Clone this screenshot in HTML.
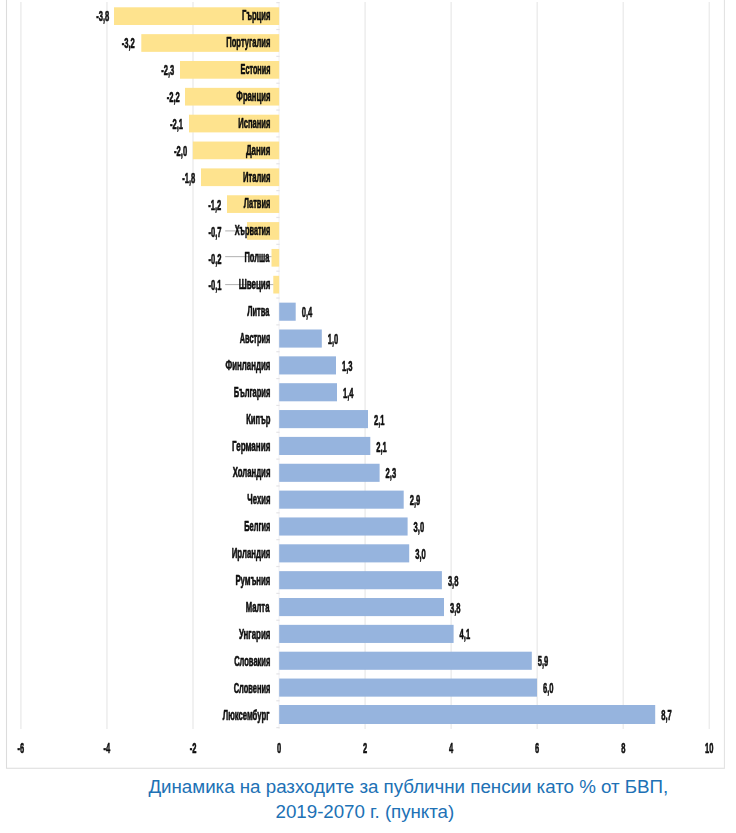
<!DOCTYPE html><html><head><meta charset="utf-8"><title>Chart</title><style>html,body{margin:0;padding:0;background:#fff}svg{display:block}text{font-family:"Liberation Sans",sans-serif}</style></head><body>
<svg width="736" height="833" viewBox="0 0 736 833">
<rect width="736" height="833" fill="#fff"/>
<defs><filter id="soft" x="0" y="0" width="736" height="775" filterUnits="userSpaceOnUse"><feGaussianBlur stdDeviation="0.35"/></filter></defs>
<g filter="url(#soft)">
<path d="M6.5 0V768.3H724.4" fill="none" stroke="#DCDCDC" stroke-width="1.1"/>
<path d="M724.4 768.8V0" fill="none" stroke="#E0E0E0" stroke-width="1"/>
<line x1="20.90" y1="2" x2="20.90" y2="729" stroke="#EDEDED" stroke-width="1.5"/>
<line x1="106.95" y1="2" x2="106.95" y2="729" stroke="#EDEDED" stroke-width="1.5"/>
<line x1="193.00" y1="2" x2="193.00" y2="729" stroke="#EDEDED" stroke-width="1.5"/>
<line x1="279.05" y1="2" x2="279.05" y2="729" stroke="#F5F5F8" stroke-width="1.5"/>
<line x1="365.10" y1="2" x2="365.10" y2="729" stroke="#EDEDED" stroke-width="1.5"/>
<line x1="451.15" y1="2" x2="451.15" y2="729" stroke="#EDEDED" stroke-width="1.5"/>
<line x1="537.20" y1="2" x2="537.20" y2="729" stroke="#EDEDED" stroke-width="1.5"/>
<line x1="623.25" y1="2" x2="623.25" y2="729" stroke="#EDEDED" stroke-width="1.5"/>
<line x1="709.30" y1="2" x2="709.30" y2="729" stroke="#EDEDED" stroke-width="1.5"/>
<line x1="276.3" y1="2.67" x2="279.6" y2="2.67" stroke="#E4E3E6" stroke-width="1.2"/>
<line x1="276.3" y1="29.53" x2="279.6" y2="29.53" stroke="#E4E3E6" stroke-width="1.2"/>
<line x1="276.3" y1="56.38" x2="279.6" y2="56.38" stroke="#E4E3E6" stroke-width="1.2"/>
<line x1="276.3" y1="83.23" x2="279.6" y2="83.23" stroke="#E4E3E6" stroke-width="1.2"/>
<line x1="276.3" y1="110.08" x2="279.6" y2="110.08" stroke="#E4E3E6" stroke-width="1.2"/>
<line x1="276.3" y1="136.93" x2="279.6" y2="136.93" stroke="#E4E3E6" stroke-width="1.2"/>
<line x1="276.3" y1="163.78" x2="279.6" y2="163.78" stroke="#E4E3E6" stroke-width="1.2"/>
<line x1="276.3" y1="190.63" x2="279.6" y2="190.63" stroke="#E4E3E6" stroke-width="1.2"/>
<line x1="276.3" y1="217.48" x2="279.6" y2="217.48" stroke="#E4E3E6" stroke-width="1.2"/>
<line x1="276.3" y1="244.33" x2="279.6" y2="244.33" stroke="#E4E3E6" stroke-width="1.2"/>
<line x1="276.3" y1="271.18" x2="279.6" y2="271.18" stroke="#E4E3E6" stroke-width="1.2"/>
<line x1="276.3" y1="298.03" x2="279.6" y2="298.03" stroke="#E4E3E6" stroke-width="1.2"/>
<line x1="276.3" y1="324.88" x2="279.6" y2="324.88" stroke="#E4E3E6" stroke-width="1.2"/>
<line x1="276.3" y1="351.73" x2="279.6" y2="351.73" stroke="#E4E3E6" stroke-width="1.2"/>
<line x1="276.3" y1="378.58" x2="279.6" y2="378.58" stroke="#E4E3E6" stroke-width="1.2"/>
<line x1="276.3" y1="405.43" x2="279.6" y2="405.43" stroke="#E4E3E6" stroke-width="1.2"/>
<line x1="276.3" y1="432.28" x2="279.6" y2="432.28" stroke="#E4E3E6" stroke-width="1.2"/>
<line x1="276.3" y1="459.13" x2="279.6" y2="459.13" stroke="#E4E3E6" stroke-width="1.2"/>
<line x1="276.3" y1="485.98" x2="279.6" y2="485.98" stroke="#E4E3E6" stroke-width="1.2"/>
<line x1="276.3" y1="512.83" x2="279.6" y2="512.83" stroke="#E4E3E6" stroke-width="1.2"/>
<line x1="276.3" y1="539.67" x2="279.6" y2="539.67" stroke="#E4E3E6" stroke-width="1.2"/>
<line x1="276.3" y1="566.52" x2="279.6" y2="566.52" stroke="#E4E3E6" stroke-width="1.2"/>
<line x1="276.3" y1="593.38" x2="279.6" y2="593.38" stroke="#E4E3E6" stroke-width="1.2"/>
<line x1="276.3" y1="620.23" x2="279.6" y2="620.23" stroke="#E4E3E6" stroke-width="1.2"/>
<line x1="276.3" y1="647.08" x2="279.6" y2="647.08" stroke="#E4E3E6" stroke-width="1.2"/>
<line x1="276.3" y1="673.92" x2="279.6" y2="673.92" stroke="#E4E3E6" stroke-width="1.2"/>
<line x1="276.3" y1="700.77" x2="279.6" y2="700.77" stroke="#E4E3E6" stroke-width="1.2"/>
<line x1="276.3" y1="727.62" x2="279.6" y2="727.62" stroke="#E4E3E6" stroke-width="1.2"/>
<rect x="114.00" y="7.30" width="165.20" height="17.70" fill="#FEE38E"/>
<text transform="translate(109.20 20.90) scale(0.5500 1)" text-anchor="end" font-size="13.8" font-weight="bold" fill="#0d0d0d" stroke="#0d0d0d" stroke-width="0.5" vector-effect="non-scaling-stroke" stroke-linejoin="round">-3,8</text>
<text transform="translate(270.40 20.09) scale(0.5519 1)" text-anchor="end" font-size="13.8" font-weight="bold" fill="#0d0d0d" stroke="#0d0d0d" stroke-width="0.5" vector-effect="non-scaling-stroke" stroke-linejoin="round">Гърция</text>
<rect x="141.30" y="34.15" width="137.90" height="17.70" fill="#FEE38E"/>
<text transform="translate(134.80 47.75) scale(0.5500 1)" text-anchor="end" font-size="13.8" font-weight="bold" fill="#0d0d0d" stroke="#0d0d0d" stroke-width="0.5" vector-effect="non-scaling-stroke" stroke-linejoin="round">-3,2</text>
<text transform="translate(270.40 47.00) scale(0.5526 1)" text-anchor="end" font-size="13.8" font-weight="bold" fill="#0d0d0d" stroke="#0d0d0d" stroke-width="0.5" vector-effect="non-scaling-stroke" stroke-linejoin="round">Португалия</text>
<rect x="180.00" y="61.00" width="99.20" height="17.70" fill="#FEE38E"/>
<text transform="translate(174.30 75.00) scale(0.5500 1)" text-anchor="end" font-size="13.8" font-weight="bold" fill="#0d0d0d" stroke="#0d0d0d" stroke-width="0.5" vector-effect="non-scaling-stroke" stroke-linejoin="round">-2,3</text>
<text transform="translate(270.40 73.90) scale(0.5258 1)" text-anchor="end" font-size="13.8" font-weight="bold" fill="#0d0d0d" stroke="#0d0d0d" stroke-width="0.5" vector-effect="non-scaling-stroke" stroke-linejoin="round">Естония</text>
<rect x="185.00" y="87.85" width="94.20" height="17.70" fill="#FEE38E"/>
<text transform="translate(179.70 101.85) scale(0.5500 1)" text-anchor="end" font-size="13.8" font-weight="bold" fill="#0d0d0d" stroke="#0d0d0d" stroke-width="0.5" vector-effect="non-scaling-stroke" stroke-linejoin="round">-2,2</text>
<text transform="translate(270.40 100.81) scale(0.5567 1)" text-anchor="end" font-size="13.8" font-weight="bold" fill="#0d0d0d" stroke="#0d0d0d" stroke-width="0.5" vector-effect="non-scaling-stroke" stroke-linejoin="round">Франция</text>
<rect x="189.00" y="114.70" width="90.20" height="17.70" fill="#FEE38E"/>
<text transform="translate(183.00 129.30) scale(0.5500 1)" text-anchor="end" font-size="13.8" font-weight="bold" fill="#0d0d0d" stroke="#0d0d0d" stroke-width="0.5" vector-effect="non-scaling-stroke" stroke-linejoin="round">-2,1</text>
<text transform="translate(270.40 127.71) scale(0.5487 1)" text-anchor="end" font-size="13.8" font-weight="bold" fill="#0d0d0d" stroke="#0d0d0d" stroke-width="0.5" vector-effect="non-scaling-stroke" stroke-linejoin="round">Испания</text>
<rect x="192.80" y="141.55" width="86.40" height="17.70" fill="#FEE38E"/>
<text transform="translate(187.10 155.95) scale(0.5500 1)" text-anchor="end" font-size="13.8" font-weight="bold" fill="#0d0d0d" stroke="#0d0d0d" stroke-width="0.5" vector-effect="non-scaling-stroke" stroke-linejoin="round">-2,0</text>
<text transform="translate(270.40 154.62) scale(0.5788 1)" text-anchor="end" font-size="13.8" font-weight="bold" fill="#0d0d0d" stroke="#0d0d0d" stroke-width="0.5" vector-effect="non-scaling-stroke" stroke-linejoin="round">Дания</text>
<rect x="201.00" y="168.40" width="78.20" height="17.70" fill="#FEE38E"/>
<text transform="translate(195.30 183.00) scale(0.5500 1)" text-anchor="end" font-size="13.8" font-weight="bold" fill="#0d0d0d" stroke="#0d0d0d" stroke-width="0.5" vector-effect="non-scaling-stroke" stroke-linejoin="round">-1,8</text>
<text transform="translate(270.40 181.52) scale(0.5535 1)" text-anchor="end" font-size="13.8" font-weight="bold" fill="#0d0d0d" stroke="#0d0d0d" stroke-width="0.5" vector-effect="non-scaling-stroke" stroke-linejoin="round">Италия</text>
<rect x="227.00" y="195.25" width="52.20" height="17.70" fill="#FEE38E"/>
<text transform="translate(221.30 209.85) scale(0.5500 1)" text-anchor="end" font-size="13.8" font-weight="bold" fill="#0d0d0d" stroke="#0d0d0d" stroke-width="0.5" vector-effect="non-scaling-stroke" stroke-linejoin="round">-1,2</text>
<text transform="translate(270.40 208.43) scale(0.5411 1)" text-anchor="end" font-size="13.8" font-weight="bold" fill="#0d0d0d" stroke="#0d0d0d" stroke-width="0.5" vector-effect="non-scaling-stroke" stroke-linejoin="round">Латвия</text>
<rect x="247.00" y="222.10" width="32.20" height="17.70" fill="#FEE38E"/>
<line x1="225.2" y1="230.90" x2="247.00" y2="230.90" stroke="#A8A8A8" stroke-width="0.9"/>
<text transform="translate(221.50 236.70) scale(0.5500 1)" text-anchor="end" font-size="13.8" font-weight="bold" fill="#0d0d0d" stroke="#0d0d0d" stroke-width="0.5" vector-effect="non-scaling-stroke" stroke-linejoin="round">-0,7</text>
<text transform="translate(270.40 235.33) scale(0.5334 1)" text-anchor="end" font-size="13.8" font-weight="bold" fill="#0d0d0d" stroke="#0d0d0d" stroke-width="0.5" vector-effect="non-scaling-stroke" stroke-linejoin="round">Хърватия</text>
<rect x="271.50" y="248.95" width="7.70" height="17.70" fill="#FEE38E"/>
<line x1="225.2" y1="256.65" x2="271.50" y2="256.65" stroke="#A8A8A8" stroke-width="0.9"/>
<text transform="translate(221.50 263.55) scale(0.5500 1)" text-anchor="end" font-size="13.8" font-weight="bold" fill="#0d0d0d" stroke="#0d0d0d" stroke-width="0.5" vector-effect="non-scaling-stroke" stroke-linejoin="round">-0,2</text>
<text transform="translate(269.40 262.24) scale(0.5431 1)" text-anchor="end" font-size="13.8" font-weight="bold" fill="#0d0d0d" stroke="#0d0d0d" stroke-width="0.5" vector-effect="non-scaling-stroke" stroke-linejoin="round">Полша</text>
<rect x="273.30" y="275.80" width="5.90" height="17.70" fill="#FEE38E"/>
<line x1="225.2" y1="284.60" x2="273.30" y2="284.60" stroke="#A8A8A8" stroke-width="0.9"/>
<text transform="translate(221.50 290.40) scale(0.5500 1)" text-anchor="end" font-size="13.8" font-weight="bold" fill="#0d0d0d" stroke="#0d0d0d" stroke-width="0.5" vector-effect="non-scaling-stroke" stroke-linejoin="round">-0,1</text>
<text transform="translate(270.40 289.14) scale(0.5783 1)" text-anchor="end" font-size="13.8" font-weight="bold" fill="#0d0d0d" stroke="#0d0d0d" stroke-width="0.5" vector-effect="non-scaling-stroke" stroke-linejoin="round">Швеция</text>
<rect x="279.20" y="302.65" width="16.50" height="18.10" fill="#96B4DE"/>
<text transform="translate(301.70 317.25) scale(0.5500 1)" text-anchor="start" font-size="13.8" font-weight="bold" fill="#0d0d0d" stroke="#0d0d0d" stroke-width="0.5" vector-effect="non-scaling-stroke" stroke-linejoin="round">0,4</text>
<text transform="translate(269.40 316.05) scale(0.5405 1)" text-anchor="end" font-size="13.8" font-weight="bold" fill="#0d0d0d" stroke="#0d0d0d" stroke-width="0.5" vector-effect="non-scaling-stroke" stroke-linejoin="round">Литва</text>
<rect x="279.20" y="329.50" width="42.60" height="18.10" fill="#96B4DE"/>
<text transform="translate(327.80 344.10) scale(0.5500 1)" text-anchor="start" font-size="13.8" font-weight="bold" fill="#0d0d0d" stroke="#0d0d0d" stroke-width="0.5" vector-effect="non-scaling-stroke" stroke-linejoin="round">1,0</text>
<text transform="translate(270.40 342.95) scale(0.5328 1)" text-anchor="end" font-size="13.8" font-weight="bold" fill="#0d0d0d" stroke="#0d0d0d" stroke-width="0.5" vector-effect="non-scaling-stroke" stroke-linejoin="round">Австрия</text>
<rect x="279.20" y="356.35" width="56.80" height="18.10" fill="#96B4DE"/>
<text transform="translate(342.00 370.95) scale(0.5500 1)" text-anchor="start" font-size="13.8" font-weight="bold" fill="#0d0d0d" stroke="#0d0d0d" stroke-width="0.5" vector-effect="non-scaling-stroke" stroke-linejoin="round">1,3</text>
<text transform="translate(270.40 369.85) scale(0.5707 1)" text-anchor="end" font-size="13.8" font-weight="bold" fill="#0d0d0d" stroke="#0d0d0d" stroke-width="0.5" vector-effect="non-scaling-stroke" stroke-linejoin="round">Финландия</text>
<rect x="279.20" y="383.20" width="57.80" height="18.10" fill="#96B4DE"/>
<text transform="translate(343.00 397.80) scale(0.5500 1)" text-anchor="start" font-size="13.8" font-weight="bold" fill="#0d0d0d" stroke="#0d0d0d" stroke-width="0.5" vector-effect="non-scaling-stroke" stroke-linejoin="round">1,4</text>
<text transform="translate(270.40 396.76) scale(0.5467 1)" text-anchor="end" font-size="13.8" font-weight="bold" fill="#0d0d0d" stroke="#0d0d0d" stroke-width="0.5" vector-effect="non-scaling-stroke" stroke-linejoin="round">България</text>
<rect x="279.20" y="410.05" width="88.80" height="18.10" fill="#96B4DE"/>
<text transform="translate(374.00 424.65) scale(0.5500 1)" text-anchor="start" font-size="13.8" font-weight="bold" fill="#0d0d0d" stroke="#0d0d0d" stroke-width="0.5" vector-effect="non-scaling-stroke" stroke-linejoin="round">2,1</text>
<text transform="translate(270.40 423.67) scale(0.5546 1)" text-anchor="end" font-size="13.8" font-weight="bold" fill="#0d0d0d" stroke="#0d0d0d" stroke-width="0.5" vector-effect="non-scaling-stroke" stroke-linejoin="round">Кипър</text>
<rect x="279.20" y="436.90" width="91.10" height="18.10" fill="#96B4DE"/>
<text transform="translate(376.30 451.50) scale(0.5500 1)" text-anchor="start" font-size="13.8" font-weight="bold" fill="#0d0d0d" stroke="#0d0d0d" stroke-width="0.5" vector-effect="non-scaling-stroke" stroke-linejoin="round">2,1</text>
<text transform="translate(270.40 450.57) scale(0.5851 1)" text-anchor="end" font-size="13.8" font-weight="bold" fill="#0d0d0d" stroke="#0d0d0d" stroke-width="0.5" vector-effect="non-scaling-stroke" stroke-linejoin="round">Германия</text>
<rect x="279.20" y="463.75" width="100.40" height="18.10" fill="#96B4DE"/>
<text transform="translate(385.60 478.35) scale(0.5500 1)" text-anchor="start" font-size="13.8" font-weight="bold" fill="#0d0d0d" stroke="#0d0d0d" stroke-width="0.5" vector-effect="non-scaling-stroke" stroke-linejoin="round">2,3</text>
<text transform="translate(270.40 477.47) scale(0.5613 1)" text-anchor="end" font-size="13.8" font-weight="bold" fill="#0d0d0d" stroke="#0d0d0d" stroke-width="0.5" vector-effect="non-scaling-stroke" stroke-linejoin="round">Холандия</text>
<rect x="279.20" y="490.60" width="124.50" height="18.10" fill="#96B4DE"/>
<text transform="translate(409.70 505.20) scale(0.5500 1)" text-anchor="start" font-size="13.8" font-weight="bold" fill="#0d0d0d" stroke="#0d0d0d" stroke-width="0.5" vector-effect="non-scaling-stroke" stroke-linejoin="round">2,9</text>
<text transform="translate(270.40 504.38) scale(0.5577 1)" text-anchor="end" font-size="13.8" font-weight="bold" fill="#0d0d0d" stroke="#0d0d0d" stroke-width="0.5" vector-effect="non-scaling-stroke" stroke-linejoin="round">Чехия</text>
<rect x="279.20" y="517.45" width="128.40" height="18.10" fill="#96B4DE"/>
<text transform="translate(413.60 532.05) scale(0.5500 1)" text-anchor="start" font-size="13.8" font-weight="bold" fill="#0d0d0d" stroke="#0d0d0d" stroke-width="0.5" vector-effect="non-scaling-stroke" stroke-linejoin="round">3,0</text>
<text transform="translate(270.40 531.29) scale(0.5387 1)" text-anchor="end" font-size="13.8" font-weight="bold" fill="#0d0d0d" stroke="#0d0d0d" stroke-width="0.5" vector-effect="non-scaling-stroke" stroke-linejoin="round">Белгия</text>
<rect x="279.20" y="544.30" width="130.00" height="18.10" fill="#96B4DE"/>
<text transform="translate(415.20 558.90) scale(0.5500 1)" text-anchor="start" font-size="13.8" font-weight="bold" fill="#0d0d0d" stroke="#0d0d0d" stroke-width="0.5" vector-effect="non-scaling-stroke" stroke-linejoin="round">3,0</text>
<text transform="translate(270.40 558.19) scale(0.5687 1)" text-anchor="end" font-size="13.8" font-weight="bold" fill="#0d0d0d" stroke="#0d0d0d" stroke-width="0.5" vector-effect="non-scaling-stroke" stroke-linejoin="round">Ирландия</text>
<rect x="279.20" y="571.15" width="162.70" height="18.10" fill="#96B4DE"/>
<text transform="translate(447.90 585.75) scale(0.5500 1)" text-anchor="start" font-size="13.8" font-weight="bold" fill="#0d0d0d" stroke="#0d0d0d" stroke-width="0.5" vector-effect="non-scaling-stroke" stroke-linejoin="round">3,8</text>
<text transform="translate(270.40 585.10) scale(0.5665 1)" text-anchor="end" font-size="13.8" font-weight="bold" fill="#0d0d0d" stroke="#0d0d0d" stroke-width="0.5" vector-effect="non-scaling-stroke" stroke-linejoin="round">Румъния</text>
<rect x="279.20" y="598.00" width="164.80" height="18.10" fill="#96B4DE"/>
<text transform="translate(450.00 612.60) scale(0.5500 1)" text-anchor="start" font-size="13.8" font-weight="bold" fill="#0d0d0d" stroke="#0d0d0d" stroke-width="0.5" vector-effect="non-scaling-stroke" stroke-linejoin="round">3,8</text>
<text transform="translate(269.40 612.00) scale(0.5570 1)" text-anchor="end" font-size="13.8" font-weight="bold" fill="#0d0d0d" stroke="#0d0d0d" stroke-width="0.5" vector-effect="non-scaling-stroke" stroke-linejoin="round">Малта</text>
<rect x="279.20" y="624.85" width="174.40" height="18.10" fill="#96B4DE"/>
<text transform="translate(459.60 639.45) scale(0.5500 1)" text-anchor="start" font-size="13.8" font-weight="bold" fill="#0d0d0d" stroke="#0d0d0d" stroke-width="0.5" vector-effect="non-scaling-stroke" stroke-linejoin="round">4,1</text>
<text transform="translate(270.40 638.91) scale(0.5742 1)" text-anchor="end" font-size="13.8" font-weight="bold" fill="#0d0d0d" stroke="#0d0d0d" stroke-width="0.5" vector-effect="non-scaling-stroke" stroke-linejoin="round">Унгария</text>
<rect x="279.20" y="651.70" width="252.60" height="18.10" fill="#96B4DE"/>
<text transform="translate(537.80 666.30) scale(0.5500 1)" text-anchor="start" font-size="13.8" font-weight="bold" fill="#0d0d0d" stroke="#0d0d0d" stroke-width="0.5" vector-effect="non-scaling-stroke" stroke-linejoin="round">5,9</text>
<text transform="translate(270.40 665.81) scale(0.5467 1)" text-anchor="end" font-size="13.8" font-weight="bold" fill="#0d0d0d" stroke="#0d0d0d" stroke-width="0.5" vector-effect="non-scaling-stroke" stroke-linejoin="round">Словакия</text>
<rect x="279.20" y="678.55" width="257.80" height="18.10" fill="#96B4DE"/>
<text transform="translate(543.00 693.15) scale(0.5500 1)" text-anchor="start" font-size="13.8" font-weight="bold" fill="#0d0d0d" stroke="#0d0d0d" stroke-width="0.5" vector-effect="non-scaling-stroke" stroke-linejoin="round">6,0</text>
<text transform="translate(270.40 692.72) scale(0.5422 1)" text-anchor="end" font-size="13.8" font-weight="bold" fill="#0d0d0d" stroke="#0d0d0d" stroke-width="0.5" vector-effect="non-scaling-stroke" stroke-linejoin="round">Словения</text>
<rect x="279.20" y="705.00" width="376.00" height="19.00" fill="#96B4DE"/>
<text transform="translate(661.20 720.00) scale(0.5500 1)" text-anchor="start" font-size="13.8" font-weight="bold" fill="#0d0d0d" stroke="#0d0d0d" stroke-width="0.5" vector-effect="non-scaling-stroke" stroke-linejoin="round">8,7</text>
<text transform="translate(269.40 719.62) scale(0.5593 1)" text-anchor="end" font-size="13.8" font-weight="bold" fill="#0d0d0d" stroke="#0d0d0d" stroke-width="0.5" vector-effect="non-scaling-stroke" stroke-linejoin="round">Люксембург</text>
<text transform="translate(20.90 753.00) scale(0.5450 1)" text-anchor="middle" font-size="13.8" font-weight="bold" fill="#0d0d0d" stroke="#0d0d0d" stroke-width="0.5" vector-effect="non-scaling-stroke" stroke-linejoin="round">-6</text>
<text transform="translate(106.95 753.00) scale(0.5450 1)" text-anchor="middle" font-size="13.8" font-weight="bold" fill="#0d0d0d" stroke="#0d0d0d" stroke-width="0.5" vector-effect="non-scaling-stroke" stroke-linejoin="round">-4</text>
<text transform="translate(193.00 753.00) scale(0.5450 1)" text-anchor="middle" font-size="13.8" font-weight="bold" fill="#0d0d0d" stroke="#0d0d0d" stroke-width="0.5" vector-effect="non-scaling-stroke" stroke-linejoin="round">-2</text>
<text transform="translate(279.05 753.00) scale(0.5450 1)" text-anchor="middle" font-size="13.8" font-weight="bold" fill="#0d0d0d" stroke="#0d0d0d" stroke-width="0.5" vector-effect="non-scaling-stroke" stroke-linejoin="round">0</text>
<text transform="translate(365.10 753.00) scale(0.5450 1)" text-anchor="middle" font-size="13.8" font-weight="bold" fill="#0d0d0d" stroke="#0d0d0d" stroke-width="0.5" vector-effect="non-scaling-stroke" stroke-linejoin="round">2</text>
<text transform="translate(451.15 753.00) scale(0.5450 1)" text-anchor="middle" font-size="13.8" font-weight="bold" fill="#0d0d0d" stroke="#0d0d0d" stroke-width="0.5" vector-effect="non-scaling-stroke" stroke-linejoin="round">4</text>
<text transform="translate(537.20 753.00) scale(0.5450 1)" text-anchor="middle" font-size="13.8" font-weight="bold" fill="#0d0d0d" stroke="#0d0d0d" stroke-width="0.5" vector-effect="non-scaling-stroke" stroke-linejoin="round">6</text>
<text transform="translate(623.25 753.00) scale(0.5450 1)" text-anchor="middle" font-size="13.8" font-weight="bold" fill="#0d0d0d" stroke="#0d0d0d" stroke-width="0.5" vector-effect="non-scaling-stroke" stroke-linejoin="round">8</text>
<text transform="translate(709.30 753.00) scale(0.5450 1)" text-anchor="middle" font-size="13.8" font-weight="bold" fill="#0d0d0d" stroke="#0d0d0d" stroke-width="0.5" vector-effect="non-scaling-stroke" stroke-linejoin="round">10</text>
</g>
<text x="148.4" y="793.3" textLength="519.8" lengthAdjust="spacing" font-size="18.75" fill="#2071B5">Динамика на разходите за публични пенсии като % от БВП,</text>
<text x="275.6" y="817.8" textLength="178.6" lengthAdjust="spacing" font-size="18.75" fill="#2071B5">2019-2070 г. (пункта)</text>
</svg>
</body></html>
